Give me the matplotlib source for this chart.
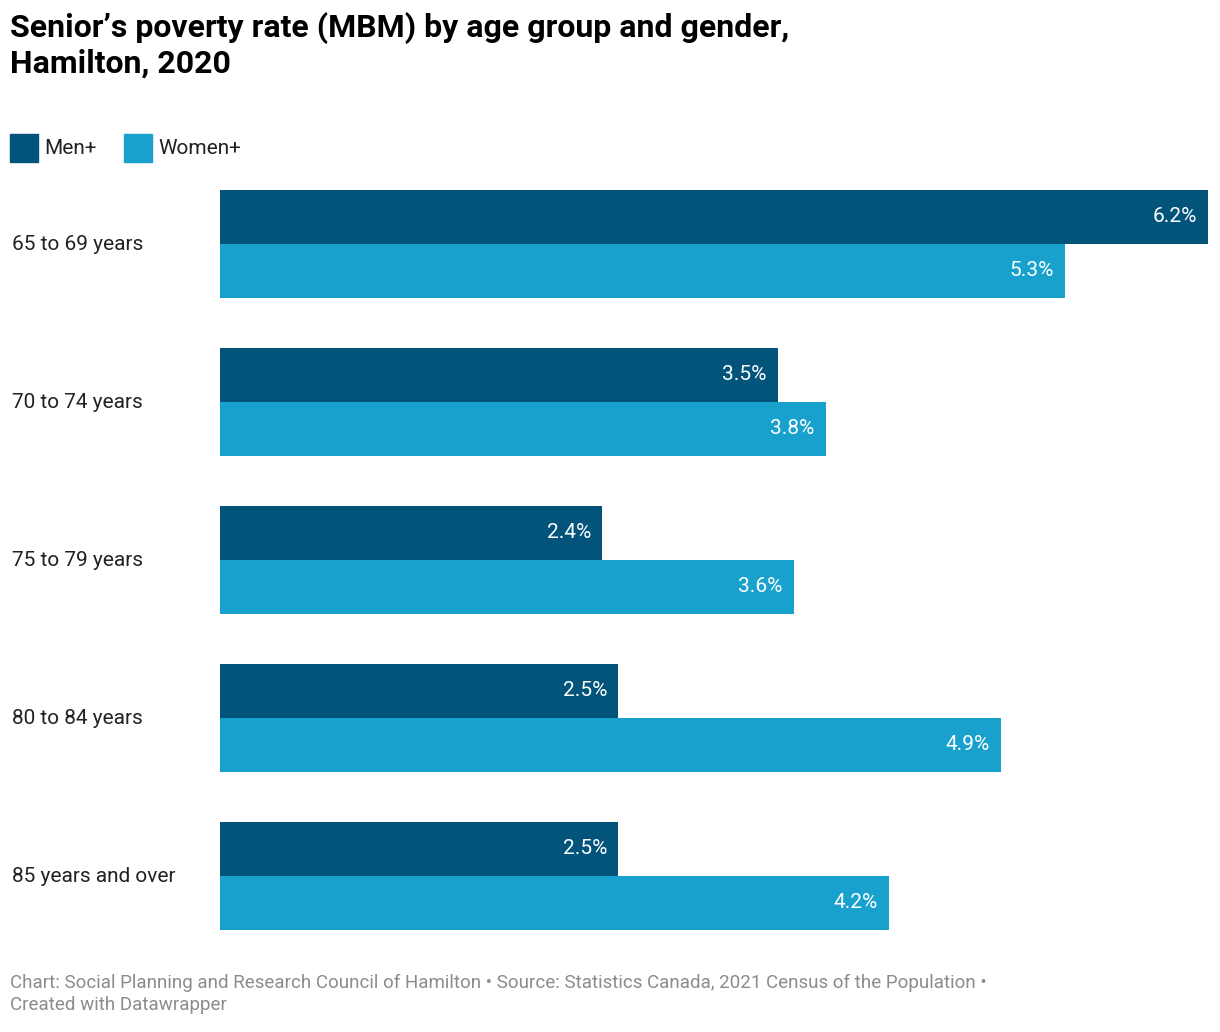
import matplotlib.pyplot as plt
import matplotlib.patches as mpatches

plt.rcParams['font.family'] = ['Roboto', 'DejaVu Sans']

# Data
groups = ["65 to 69 years", "70 to 74 years", "75 to 79 years",
          "80 to 84 years", "85 years and over"]
men = [6.2, 3.5, 2.4, 2.5, 2.5]
women = [5.3, 3.8, 3.6, 4.9, 4.2]
series = ["Men+", "Women+"]
colors = ["#03547a", "#18a1cd"]

W, H = 1220, 1032
fig = plt.figure(figsize=(W / 100, H / 100), dpi=100)

# axes placed in pixel space of the bar area
left, right, top, bottom = 220, 1208, 190, 930
ax = fig.add_axes([left / W, 1 - bottom / H, (right - left) / W, (bottom - top) / H])

pitch, bh = 158, 54
for i, (m, w) in enumerate(zip(men, women)):
    y0 = i * pitch
    for j, v in enumerate([m, w]):
        yc = y0 + bh / 2 + j * bh
        ax.barh(yc, v, height=bh, color=colors[j], edgecolor="none")
        ax.text(v - 0.07, yc, f"{v}%", ha="right", va="center",
                color="white", fontsize=15)
    fig.text(12 / W, 1 - (top + y0 + bh) / H, groups[i], ha="left",
             va="center", fontsize=15, color="#222222")

ax.set_xlim(0, 6.2)
ax.set_ylim(bottom - top, 0)
ax.axis("off")

# Title
fig.text(10 / W, 1 - 12 / H, "Senior’s poverty rate (MBM) by age group and gender,\nHamilton, 2020",
         ha="left", va="top", fontsize=23, fontweight="bold", color="#000000",
         linespacing=1.2)

# Legend
lx = 10
for name, c in zip(series, colors):
    fig.patches.append(mpatches.Rectangle((lx / W, 1 - 162 / H), 28 / W, 28 / H,
                                          transform=fig.transFigure, color=c))
    t = fig.text((lx + 34) / W, 1 - 148 / H, name, ha="left", va="center",
                 fontsize=15, color="#222222")
    lx += 114

# Footer
fig.text(10 / W, 1 - 994 / H,
         "Chart: Social Planning and Research Council of Hamilton • Source: Statistics Canada, 2021 Census of the Population •\nCreated with Datawrapper",
         ha="left", va="center", fontsize=13.5, color="#8c8c8c", linespacing=1.3)

fig.savefig("out.png", dpi=100)
